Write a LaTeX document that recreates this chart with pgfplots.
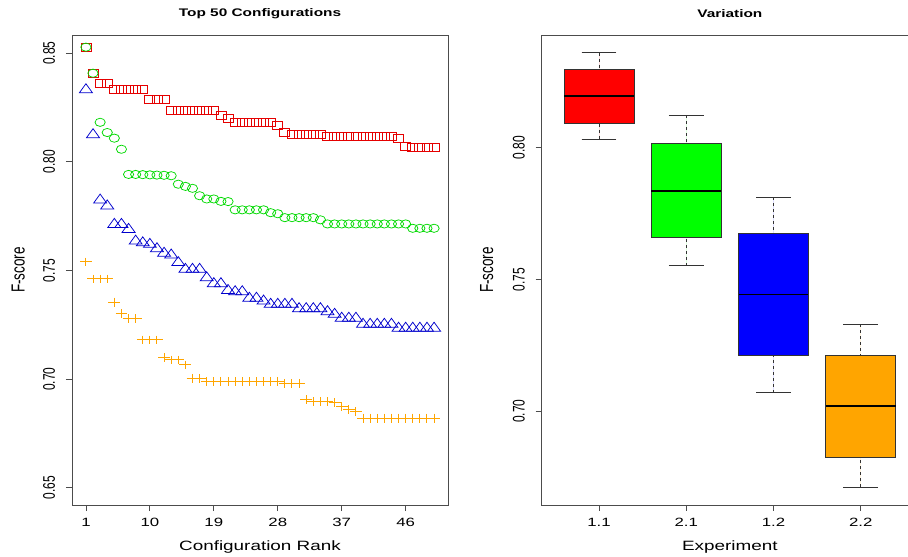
\documentclass[border=0pt]{standalone}
\usepackage{fontspec}
\setmainfont{Liberation Sans}
\usepackage{pgfplots}
\usepackage{pgfplotstable}
\pgfplotsset{compat=1.18}
\usepgfplotslibrary{statistics}
\definecolor{rOrange}{HTML}{FFA500}
\definecolor{rGreen}{HTML}{00FF00}
\definecolor{rRed}{HTML}{FF0000}
\definecolor{rBlue}{HTML}{0000FF}
\newcommand\tickfont{\fontsize{12}{14}\selectfont}
\newcommand\labfont{\fontsize{13.5}{16}\selectfont}
\newcommand\titfont{\fontsize{11}{13}\selectfont\bfseries}

\pgfplotstableread{
rank red green blue orange
1 0.8528 0.8528 0.8332 0.7539
2 0.8408 0.8408 0.8125 0.7461
3 0.8359 0.8182 0.7824 0.7461
4 0.8359 0.8135 0.7797 0.7461
5 0.8334 0.8109 0.7712 0.7354
6 0.8334 0.8058 0.7712 0.7303
7 0.8334 0.7942 0.7689 0.7277
8 0.8334 0.7942 0.7635 0.7277
9 0.8334 0.7941 0.7627 0.7180
10 0.8288 0.7940 0.7620 0.7180
11 0.8288 0.7939 0.7600 0.7180
12 0.8288 0.7938 0.7579 0.7100
13 0.8236 0.7936 0.7571 0.7088
14 0.8236 0.7897 0.7536 0.7088
15 0.8236 0.7887 0.7505 0.7065
16 0.8236 0.7878 0.7505 0.7003
17 0.8236 0.7844 0.7505 0.7003
18 0.8236 0.7829 0.7466 0.6990
19 0.8236 0.7829 0.7439 0.6990
20 0.8216 0.7818 0.7439 0.6990
21 0.8201 0.7817 0.7408 0.6990
22 0.8182 0.7779 0.7402 0.6990
23 0.8182 0.7779 0.7402 0.6990
24 0.8182 0.7779 0.7372 0.6990
25 0.8182 0.7779 0.7372 0.6990
26 0.8182 0.7779 0.7359 0.6990
27 0.8182 0.7766 0.7344 0.6990
28 0.8170 0.7761 0.7344 0.6990
29 0.8135 0.7743 0.7344 0.6981
30 0.8128 0.7743 0.7344 0.6981
31 0.8128 0.7743 0.7324 0.6981
32 0.8128 0.7743 0.7324 0.6904
33 0.8128 0.7743 0.7324 0.6896
34 0.8128 0.7733 0.7324 0.6896
35 0.8116 0.7714 0.7310 0.6896
36 0.8116 0.7714 0.7298 0.6892
37 0.8116 0.7714 0.7280 0.6873
38 0.8116 0.7714 0.7280 0.6861
39 0.8116 0.7714 0.7280 0.6850
40 0.8116 0.7714 0.7252 0.6820
41 0.8116 0.7714 0.7252 0.6820
42 0.8116 0.7714 0.7252 0.6820
43 0.8116 0.7714 0.7252 0.6820
44 0.8116 0.7714 0.7252 0.6820
45 0.8109 0.7714 0.7234 0.6820
46 0.8069 0.7714 0.7234 0.6820
47 0.8066 0.7694 0.7234 0.6820
48 0.8066 0.7694 0.7234 0.6820
49 0.8066 0.7694 0.7234 0.6820
50 0.8066 0.7694 0.7234 0.6820
}\toptable

\pgfplotsset{
  rstyle/.style={
    scale only axis,
    tick align=outside,
    tick pos=left,
    major tick length=6pt,
    axis line style={black!70, line width=0.8pt},
    tick style={black!70, line width=0.8pt},
    every tick label/.append style={font=\tickfont},
    xticklabel style={xscale=1.4, anchor=north},
    yticklabel style={xscale=1.4, rotate=90, anchor=south},
    xticklabel shift=4pt,
    yticklabel shift=6pt,
    every axis title/.style={at={(axis description cs:0.5,1.0462)}, anchor=center, font=\titfont, xscale=1.4},
    every axis x label/.style={at={(axis description cs:0.5,-0.0887)}, anchor=center, font=\labfont, xscale=1.4},
    every axis y label/.style={at={(axis description cs:-0.1428,0.5)}, xscale=1.4, rotate=90, anchor=center, font=\labfont},
  },
}

\begin{document}
\begin{tikzpicture}
\begin{axis}[rstyle, at={(72pt,52pt)}, anchor=south west,
  width=376pt, height=470pt,
  xmin=-0.96, xmax=51.96, ymin=0.642, ymax=0.8584,
  xtick={1,10,19,28,37,46}, xticklabels={1,10,19,28,37,46},
  ytick={0.65,0.70,0.75,0.80,0.85}, yticklabels={0.65,0.70,0.75,0.80,0.85},
  title={Top 50 Configurations}, xlabel={Configuration Rank}, ylabel={F-score}]
\addplot[only marks, mark=square, mark size=4pt, rRed!90!black, mark options={line width=0.75pt, xscale=1.25}] table[x=rank, y=red] {\toptable};
\addplot[only marks, mark=o, mark size=4.1pt, rGreen!85!black, mark options={line width=0.75pt, xscale=1.25}] table[x=rank, y=green] {\toptable};
\addplot[only marks, mark=triangle, mark size=6pt, rBlue!80!black, mark options={line width=0.75pt, xscale=1.25}] table[x=rank, y=blue] {\toptable};
\addplot[only marks, mark=+, mark size=4.4pt, rOrange, mark options={line width=1pt, xscale=1.35}] table[x=rank, y=orange] {\toptable};
\end{axis}

\begin{axis}[rstyle, at={(541.7pt,52pt)}, anchor=south west,
  width=376.3pt, height=470pt,
  xmin=0.343, xmax=4.657, ymin=0.6644, ymax=0.8428,
  xtick={1,2,3,4}, xticklabels={1.1,2.1,1.2,2.2},
  ytick={0.70,0.75,0.80}, yticklabels={0.70,0.75,0.80},
  title={Variation}, xlabel={Experiment}, ylabel={F-score},
  every axis y label/.append style={at={(axis description cs:-0.1462,0.5)}},
  boxplot/draw direction=y,
  boxplot/box extend=0.8, boxplot/whisker extend=0.4,
  boxplot/every box/.style={draw=black!80, line width=0.8pt},
  boxplot/every median/.style={draw=black, line width=1.8pt},
  boxplot/every whisker/.style={draw=black!80, line width=0.8pt},
  boxplot/draw/lower whisker/.code={%
    \draw[/pgfplots/boxplot/every whisker/.try, dash pattern=on 3pt off 3pt]
      (boxplot box cs:\pgfplotsboxplotvalue{lower whisker},0.5) --
      (boxplot box cs:\pgfplotsboxplotvalue{lower quartile},0.5);
    \draw[/pgfplots/boxplot/every whisker/.try, solid]
      (boxplot whisker cs:\pgfplotsboxplotvalue{lower whisker},0) --
      (boxplot whisker cs:\pgfplotsboxplotvalue{lower whisker},1);
  },
  boxplot/draw/upper whisker/.code={%
    \draw[/pgfplots/boxplot/every whisker/.try, dash pattern=on 3pt off 3pt]
      (boxplot box cs:\pgfplotsboxplotvalue{upper whisker},0.5) --
      (boxplot box cs:\pgfplotsboxplotvalue{upper quartile},0.5);
    \draw[/pgfplots/boxplot/every whisker/.try, solid]
      (boxplot whisker cs:\pgfplotsboxplotvalue{upper whisker},0) --
      (boxplot whisker cs:\pgfplotsboxplotvalue{upper whisker},1);
  },
]
\addplot[boxplot prepared={draw position=1, lower whisker=0.8033, lower quartile=0.8093, median=0.8196, upper quartile=0.8299, upper whisker=0.8361}, fill=rRed, draw=black!80] coordinates {};
\addplot[boxplot prepared={draw position=2, lower whisker=0.7553, lower quartile=0.7658, median=0.7837, upper quartile=0.8017, upper whisker=0.8123}, fill=rGreen, draw=black!80] coordinates {};
\addplot[boxplot prepared={draw position=3, lower whisker=0.7071, lower quartile=0.7210, median=0.7443, upper quartile=0.7675, upper whisker=0.7812}, fill=rBlue, draw=black!80] coordinates {};
\addplot[boxplot prepared={draw position=4, lower whisker=0.6711, lower quartile=0.6823, median=0.7019, upper quartile=0.7210, upper whisker=0.7330}, fill=rOrange, draw=black!80] coordinates {};
\end{axis}
\pgfresetboundingbox
\useasboundingbox (0pt,0pt) rectangle (908pt,557pt);
\end{tikzpicture}
\end{document}
